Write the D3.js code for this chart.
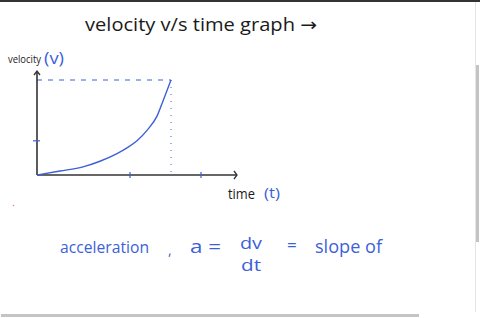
<!DOCTYPE html>
<html>
<head>
<meta charset="utf-8">
<script src="https://cdn.jsdelivr.net/npm/d3@7"></script>
<style>
  html, body { margin: 0; padding: 0; background: #fff; overflow: hidden; }
  svg { display: block; }
</style>
</head>
<body>
<svg id="chart" width="480" height="318"></svg>
<script>
/* global d3 */
// velocity–time curve (time and velocity in arbitrary units)
const times = [0, 1.15, 2.3, 3.15, 4.0, 4.5, 5.0, 5.5, 6.0, 6.3, 6.7]
const velocities = [0, 0.42, 0.86, 1.45, 2.25, 2.85, 3.6, 4.7, 6.2, 7.8, 10]
const timeTicks = [4.65, 8.2]
const velocityTicks = [3.6]
const markTime = 6.7 // where the dotted guide drops down
const markVelocity = 10 // where the dashed guide runs across

const blue = '#3d5fd9'
const ink = '#1a1a1a'
const hand = '"Open Sans", "DejaVu Sans", sans-serif'

const svg = d3.select('#chart')

// frame of the screenshot: top bar, right border, scrollbars
svg.append('rect').attr('x', 0).attr('y', 0).attr('width', 480).attr('height', 2).style('fill', '#333')
svg.append('line').attr('x1', 475.5).attr('x2', 475.5).attr('y1', 2).attr('y2', 312)
  .style('stroke', '#e4e4e4').style('stroke-width', 1)
svg.append('rect').attr('x', 476).attr('y', 65).attr('width', 3).attr('height', 177).style('fill', '#c4c4c4')
svg.append('rect').attr('x', 1).attr('y', 314).attr('width', 418).attr('height', 3).style('fill', '#c4c4c4')

const x = d3.scaleLinear().domain([0, 10]).range([37, 237])
const y = d3.scaleLinear().domain([0, 10]).range([175, 80])

const g = svg.append('g')

// guides
g.append('line')
  .attr('x1', x(0)).attr('x2', x(markTime))
  .attr('y1', y(markVelocity)).attr('y2', y(markVelocity))
  .style('stroke', blue).style('stroke-width', 1).style('stroke-dasharray', '5,6')
g.append('line')
  .attr('x1', x(markTime)).attr('x2', x(markTime))
  .attr('y1', y(markVelocity)).attr('y2', y(0))
  .style('stroke', blue).style('stroke-width', 1).style('stroke-dasharray', '1,6')

// axes, drawn by hand-ish with arrow heads
const xAxis = d3.axisBottom(x).tickValues(timeTicks).tickSize(0).tickFormat('')
const yAxis = d3.axisLeft(y).tickValues(velocityTicks).tickSize(0).tickFormat('')

g.append('g').attr('transform', `translate(0,${y(0)})`).call(xAxis)
  .call(s => s.select('.domain').remove())
g.append('g').attr('transform', `translate(${x(0)},0)`).call(yAxis)
  .call(s => s.select('.domain').remove())

g.append('line').attr('x1', x(0)).attr('x2', x(0) + 200).attr('y1', y(0)).attr('y2', y(0))
  .style('stroke', '#333').style('stroke-width', 1.6)
g.append('line').attr('x1', x(0)).attr('x2', x(0)).attr('y1', y(0)).attr('y2', y(0) - 103)
  .style('stroke', '#333').style('stroke-width', 1.6)
g.append('path')
  .attr('d', `M${x(0) + 197},${y(0) - 4} L${x(0) + 200},${y(0)} L${x(0) + 197},${y(0) + 4}`)
  .style('fill', 'none').style('stroke', '#333').style('stroke-width', 1.3)
g.append('path')
  .attr('d', `M${x(0) - 3},${y(0) - 100} L${x(0)},${y(0) - 104} L${x(0) + 3},${y(0) - 100}`)
  .style('fill', 'none').style('stroke', '#333').style('stroke-width', 1.3)

// tick marks in blue
g.selectAll('.xtick').data(timeTicks).join('line').attr('class', 'xtick')
  .attr('x1', d => x(d)).attr('x2', d => x(d)).attr('y1', y(0) - 3).attr('y2', y(0) + 3)
  .style('stroke', blue).style('stroke-width', 1.2)
g.selectAll('.ytick').data(velocityTicks).join('line').attr('class', 'ytick')
  .attr('x1', x(0) - 4).attr('x2', x(0) + 3).attr('y1', d => y(d)).attr('y2', d => y(d))
  .style('stroke', blue).style('stroke-width', 1.2)

// the curve
const line = d3.line()
  .curve(d3.curveMonotoneX)
  .x((d, i) => x(times[i]))
  .y(d => y(d))

g.append('path')
  .datum(velocities)
  .attr('d', line)
  .style('fill', 'none').style('stroke', blue).style('stroke-width', 1.4)

// labels
function label (txt, px, py, size, color, len) {
  const t = svg.append('text').text(txt)
    .attr('x', px).attr('y', py)
    .style('font-family', hand).style('font-size', size + 'px').style('fill', color)
  if (len) t.attr('textLength', len).attr('lengthAdjust', 'spacingAndGlyphs')
  return t
}

label('velocity v/s time graph →', 85, 31, 18, ink, 232)
label('velocity', 8, 63, 10, ink, 33)
label('(v)', 44, 64, 16, blue, 20)
label('time', 228, 199, 14, ink, 27)
label('(t)', 264, 198, 15, blue, 16)

label('acceleration', 60, 253, 17, blue, 89)
label(',', 168, 255, 14, blue)
label('a =', 190, 253, 19, blue, 31)
label('dv', 240, 249, 16, blue, 22)
label('dt', 241, 271, 16, blue, 20)
label('=', 287, 251, 17, blue)
label('slope of', 315, 253, 19, blue, 67)

svg.append('circle').attr('cx', 13.5).attr('cy', 205.5).attr('r', 0.8).style('fill', '#d88')
</script>
</body>
</html>
